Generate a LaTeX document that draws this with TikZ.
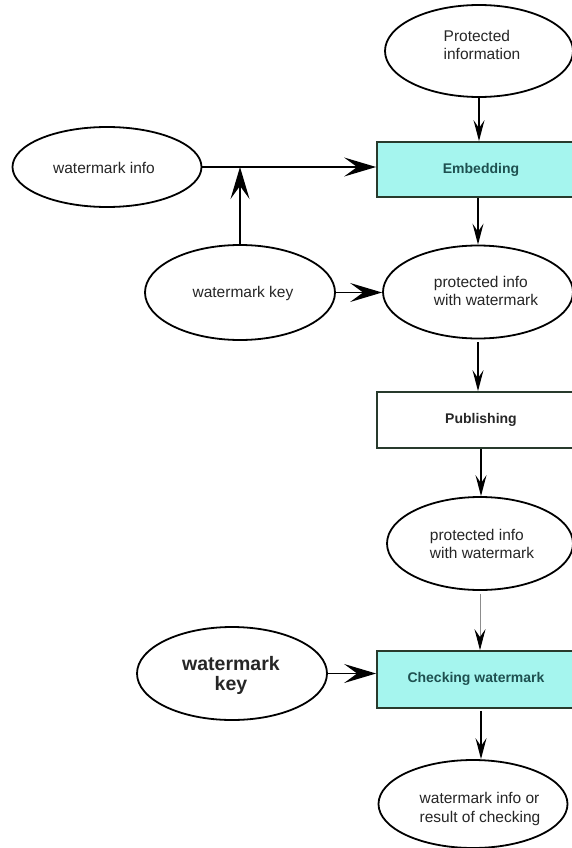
\documentclass[tikz,border=0pt]{standalone}
\usepackage{fontspec}
\setmainfont{Liberation Sans}
\usetikzlibrary{shapes.geometric,arrows.meta}
\definecolor{boxfill}{RGB}{165,245,238}
\definecolor{boxline}{RGB}{40,58,44}
\definecolor{boxtext}{RGB}{30,80,80}
\begin{document}
\begin{tikzpicture}[x=1pt,y=-1pt,
  oval/.style={ellipse,draw=black,line width=1.8pt,inner sep=0pt},
  lbl/.style={inner sep=0pt,align=left,text=black!85,font=\fontsize{15.5}{18.5}\selectfont},
  procbox/.style={rectangle,draw=boxline,line width=1.8pt,inner sep=0pt,align=center,
    minimum width=208pt,font=\fontsize{14}{18}\selectfont\bfseries},
  bigarr/.style={line width=1.4pt,-{Stealth[length=32pt,width=19pt,inset=13pt]}},
  smallarr/.style={line width=1.4pt,-{Stealth[length=21pt,width=11pt,inset=8pt]}}]
\useasboundingbox (0,0) rectangle (572,848);
\fill[white] (0,0) rectangle (572,848);

\node[oval,minimum width=188pt,minimum height=92pt] (pi) at (479,51) {};
\node[lbl] (pit) at (482,45) {Protected\\information};
\node[procbox,fill=boxfill,text=boxtext,minimum height=55pt] (emb) at (481,169.5) {Embedding};
\node[oval,minimum width=189pt,minimum height=80pt] (wi) at (107,167) {};
\node[lbl] (wit) at (104,168) {watermark info};
\node[oval,minimum width=190pt,minimum height=95pt] (wk) at (240,292.5) {};
\node[lbl] (wkt) at (243,293) {watermark key};
\node[oval,minimum width=190pt,minimum height=93pt] (pw1) at (478,292) {};
\node[lbl] (pw1t) at (486,291) {protected info\\with watermark};
\node[procbox,fill=white,text=black!85,minimum height=56pt] (pub) at (481,420) {Publishing};
\node[oval,minimum width=186pt,minimum height=93pt] (pw2) at (480,543.5) {};
\node[lbl] (pw2t) at (482,544) {protected info\\with watermark};
\node[procbox,fill=boxfill,text=boxtext,minimum height=57pt] (chk) at (481,679.5) {};
\node[inner sep=0pt,text=boxtext,font=\fontsize{14}{18}\selectfont\bfseries] (chkt) at (476,679) {Checking watermark};
\node[oval,minimum width=190pt,minimum height=93pt] (wk2) at (232,673.5) {};
\node[inner sep=0pt,align=center,text=black!85,font=\fontsize{19.5}{20}\selectfont\bfseries] (wk2t) at (231,675) {watermark\\key};
\node[oval,minimum width=189pt,minimum height=88pt] (res) at (473,804) {};
\node[lbl] (rest) at (480,809) {watermark info or\\result of checking};

\draw[bigarr] (wi.east) -- (wi.east -| emb.west);
\draw[bigarr] (wk.north) -- (wk.north |- wi.east);
\draw[bigarr] (wk.east) -- (wk.east -| pw1.west);
\draw[bigarr] (wk2.east) -- (wk2.east -| chk.west);
\draw[smallarr] (pi.south) -- (pi.south |- emb.north);
\draw[smallarr] (emb.south -| pw1.north) -- (pw1.north);
\draw[smallarr] ([yshift=-3pt]pw1.south) -- (pw1.south |- pub.north);
\draw[smallarr] (pub.south) -- (pub.south |- pw2.north);
\draw[line width=0.8pt,draw=black!45,-{Stealth[length=21pt,width=11pt,inset=8pt,fill=black,color=black]}] ([yshift=-3pt]pw2.south) -- (pw2.south |- chk.north);
\draw[smallarr] ([yshift=-2pt]chk.south) -- (chk.south |- res.north);
\end{tikzpicture}
\end{document}
